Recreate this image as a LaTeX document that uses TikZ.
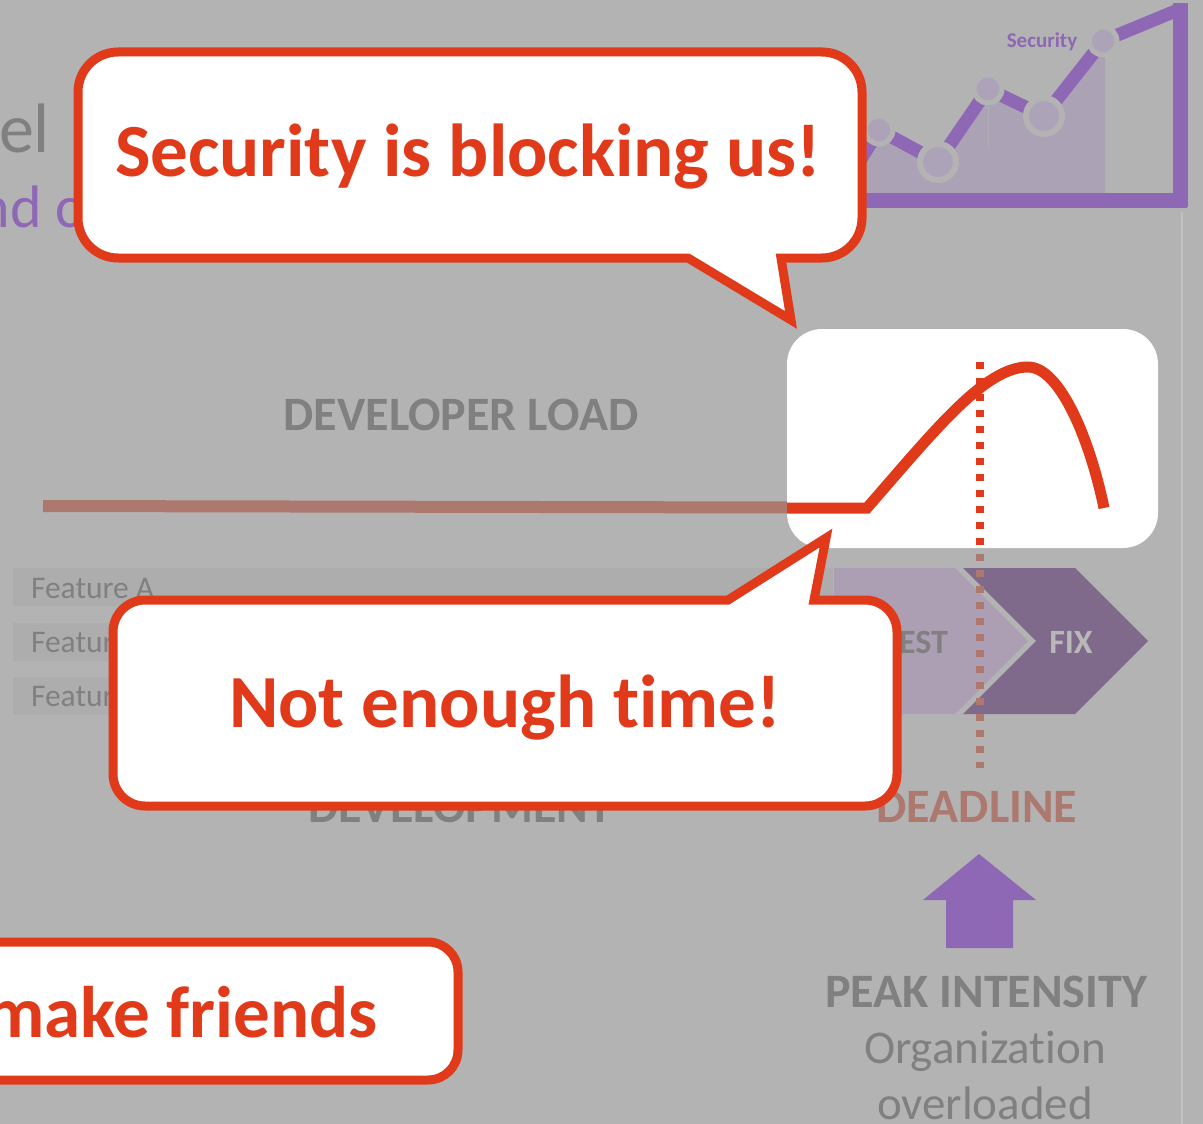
\documentclass[tikz,border=0pt]{standalone}
\usepackage{fontspec}
\setmainfont{Carlito}[Ligatures={NoCommon,NoRequired,NoContextual}]
\newcommand\fsz[1]{\fontsize{#1}{#1}\selectfont}
\definecolor{slidebg}{HTML}{B3B3B3}
\definecolor{calloutred}{HTML}{E03A1A}
\definecolor{dimred}{HTML}{AD786E}
\definecolor{txtgray}{HTML}{808080}
\definecolor{violet}{HTML}{8E68B5}
\definecolor{areafill}{HTML}{ABA2B5}
\definecolor{dotfill}{HTML}{ADA3B8}
\definecolor{testfill}{HTML}{AD9FB3}
\definecolor{fixfill}{HTML}{806A8C}
\definecolor{barfill}{HTML}{ADADAD}
\definecolor{fixtext}{HTML}{B8B8B8}
\begin{document}
\begin{tikzpicture}[x=1pt,y=-1pt,
  lbl/.style={inner sep=0pt, outer sep=0pt},
  callout/.style={draw=calloutred, fill=white, line width=9pt, line join=miter},
  shout/.style={lbl, text=calloutred, font=\bfseries\fsz{75}},
  headline/.style={lbl, text=txtgray, font=\bfseries\fsz{48}},
  featbar/.style={fill=barfill},
  feattext/.style={lbl, anchor=base west, text=txtgray, font=\fsz{31.5}},
  dotnode/.style={fill=dotfill, draw=slidebg, line width=5pt},
  bigdot/.style={fill=dotfill, draw=slidebg, line width=6pt},
  deadline/.style={line width=7.5pt, dash pattern=on 7pt off 9pt}]
\useasboundingbox (0,0) rectangle (1203,1124);
\fill[slidebg] (0,0) rectangle (1203,1124);
\clip (0,0) rectangle (1203,1124);

% slide title fragments
\node[lbl, anchor=base east, text=txtgray, font=\fsz{70}] (title) at (50,152) {el};
\node[lbl, anchor=base west, text=violet, font=\fsz{60}] (subtitle) at (-21,227) {nd c};

% small trend chart, top right
\coordinate (p0) at (845,185);
\coordinate (c1) at (879,130);
\coordinate (c2) at (938,162);
\coordinate (c3) at (988,89);
\coordinate (c4) at (1044,116);
\coordinate (c5) at (1103,41);
\coordinate (pend) at (1178,10);
\fill[areafill] (830,200) -- (p0) -- (c1) -- (c2) -- (c3) -- (c4) -- (c5) -- (1105,41) -- (1105,200) -- cycle;
\draw[line width=1pt, color=slidebg!60!areafill] (c3) -- (988,150);
\draw[violet, line width=13pt, line join=round] (p0) -- (c1) -- (c2) -- (c3) -- (c4) -- (c5) -- (pend);
\draw[violet, line width=15pt] (1180,3) -- (1180,207);
\draw[violet, line width=15pt] (830,200) -- (1187,200);
\draw[dotnode] (c1) circle[radius=14];
\draw[bigdot] (c2) circle[radius=18];
\draw[dotnode] (c3) circle[radius=14];
\draw[bigdot] (c4) circle[radius=18];
\draw[dotnode] (c5) circle[radius=14];
\node[lbl, anchor=base, text=violet, font=\bfseries\fsz{21}] (seclabel) at (1042,48) {Security};

% page edge
\draw[line width=1.5pt, color=slidebg!80!white] (1182,212) -- (1182,1124);

% developer load
\node[headline, anchor=base] (devload) at (461,430) {DEVELOPER LOAD};
\coordinate (loadstart) at (43,506);
\coordinate (loadend) at (790,507.5);
\draw[dimred, line width=12pt] (loadstart) -- (loadend);

% feature rows
\fill[featbar] (13,568) rectangle (833,606);
\fill[featbar] (13,623) rectangle (833,661);
\fill[featbar] (13,677) rectangle (833,715);
\node[feattext] (fa) at (31,598) {Feature A};
\node[feattext] (fb) at (31,652) {Feature B};
\node[feattext] (fc) at (31,706) {Feature C};

% phase chevrons
\fill[testfill] (834,568) -- (955,568) -- (1028,641) -- (955,714) -- (834,714) -- cycle;
\fill[fixfill] (963,568) -- (1075,568) -- (1148,641) -- (1075,714) -- (963,714) -- (1036,641) -- cycle;
\node[lbl, anchor=base east, text=txtgray, font=\bfseries\fsz{34}] (test) at (948,653) {TEST};
\node[lbl, anchor=base, text=fixtext, font=\bfseries\fsz{34}] (fix) at (1071,653) {FIX};

% deadline marker
\coordinate (dtop) at (980,362);
\coordinate (dbot) at (980,768);
\draw[deadline, dimred] (dtop) -- (dbot);

\node[headline, anchor=base] (dev) at (460,822) {DEVELOPMENT};
\node[headline, anchor=base, text=dimred] (dl) at (977,822) {DEADLINE};

% peak arrow and caption
\fill[violet] (979,854) -- (1036,900) -- (1013,900) -- (1013,948) -- (946,948) -- (946,900) -- (923,900) -- cycle;
\node[lbl, anchor=base, text=txtgray, font=\bfseries\fsz{48}] (peak) at (986,1007) {PEAK INTENSITY};
\node[lbl, anchor=base, text=txtgray, font=\fsz{47}] (org) at (985,1063) {Organizat\kern0pt ion};
\node[lbl, anchor=base, text=txtgray, font=\fsz{47}] (over) at (985,1119) {overloaded};

% highlighted load curve
\fill[white, rounded corners=35pt] (787,329) rectangle (1158,548);
\draw[calloutred, line width=11pt, line join=miter]
  (787,508) -- (867,508)
  .. controls (935,430) and (985,367) .. (1028,367)
  .. controls (1060,367) and (1090,440) .. (1104,508);
\begin{scope}
  \clip[rounded corners=35pt] (787,329) rectangle (1158,548);
  \draw[deadline, calloutred] (dtop) -- (dbot);
\end{scope}

% speech bubbles
\path[callout] (118,52) -- (822,52) arc[start angle=-90, end angle=0, radius=40]
  -- (862,218) arc[start angle=0, end angle=90, radius=40]
  -- (781,258) -- (791,320) -- (688,258)
  -- (118,258) arc[start angle=90, end angle=180, radius=40]
  -- (78,92) arc[start angle=180, end angle=270, radius=40] -- cycle;
\node[shout, anchor=base] (blocking) at (468,176) {Security is blocking us!};

\path[callout] (145,600) -- (728,600) -- (826,538) -- (814,600)
  -- (865,600) arc[start angle=-90, end angle=0, radius=32]
  -- (897,774) arc[start angle=0, end angle=90, radius=32]
  -- (145,806) arc[start angle=90, end angle=180, radius=32]
  -- (113,632) arc[start angle=180, end angle=270, radius=32] -- cycle;
\node[shout, anchor=base] (notime) at (505,727) {Not enough t\kern0pt ime!};

\path[callout, rounded corners=30pt] (-60,942) rectangle (458,1080);
\node[shout, anchor=base east, font=\bfseries\fsz{73}] (friends) at (378,1037) {make friends};
\end{tikzpicture}
\end{document}
